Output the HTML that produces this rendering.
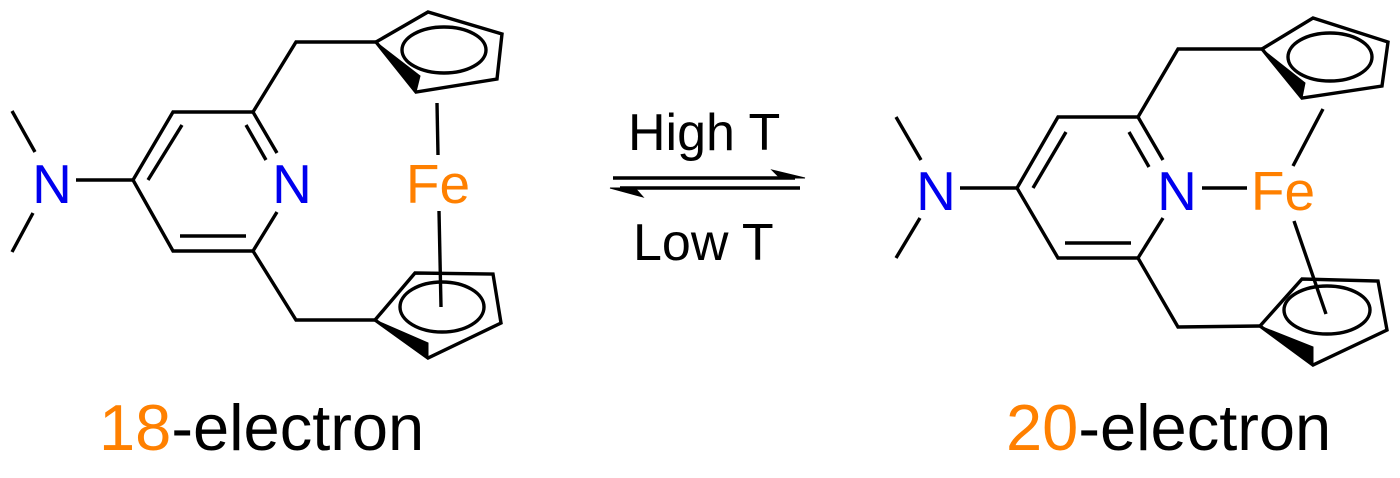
<!DOCTYPE html>
<html><head><meta charset="utf-8"><style>
html,body{margin:0;padding:0;background:#fff;}
svg{display:block;}
text{font-family:"Liberation Sans",Arial,sans-serif;}
</style></head><body>
<svg width="1400" height="478" viewBox="0 0 1400 478" xmlns="http://www.w3.org/2000/svg">
<g stroke="#000" stroke-width="3.4" fill="none" stroke-linecap="butt" stroke-linejoin="miter">
<!-- LEFT molecule -->
<line x1="12" y1="111" x2="35" y2="152"/>
<line x1="33" y1="213" x2="12" y2="252"/>
<line x1="76" y1="180" x2="133" y2="180"/>
<polyline points="277,153 253,112 173,112 133,180 173,251 253,251 277,212"/>
<line x1="182" y1="125" x2="148" y2="180"/>
<line x1="246" y1="125" x2="266" y2="160"/>
<line x1="180" y1="236" x2="246" y2="236"/>
<polyline points="253,112 296,42 376,42"/>
<polyline points="253,251 296,320 375,320"/>
<polygon points="376,42 428,12 502,34 497,79 416,92"/>
<ellipse cx="444" cy="50" rx="42" ry="23"/>
<polygon points="375,320 415,273 493,274 501,323 428,358"/>
<ellipse cx="442" cy="307" rx="42" ry="25"/>
<line x1="437" y1="103" x2="438" y2="155"/>
<line x1="439" y1="211" x2="441" y2="307"/>
<!-- RIGHT molecule -->
<line x1="896" y1="117" x2="921" y2="160"/>
<line x1="920" y1="218" x2="896" y2="258"/>
<line x1="960" y1="188" x2="1017" y2="188"/>
<polyline points="1163,160 1138,117 1058,117 1017,188 1058,258 1138,258 1163,218"/>
<line x1="1066" y1="132" x2="1033" y2="188"/>
<line x1="1129" y1="132" x2="1149" y2="167"/>
<line x1="1065" y1="243" x2="1131" y2="243"/>
<polyline points="1138,117 1178,49 1262,49"/>
<polyline points="1138,258 1178,327 1260,326"/>
<polygon points="1262,49 1313,18 1388,42 1382,86 1302,98"/>
<ellipse cx="1330" cy="57" rx="42" ry="24"/>
<polygon points="1260,326 1302,279 1378,281 1387,330 1313,365"/>
<ellipse cx="1327" cy="310" rx="43" ry="24"/>
<line x1="1202" y1="188" x2="1247" y2="188"/>
<line x1="1323" y1="109" x2="1293" y2="166"/>
<line x1="1294" y1="221" x2="1326" y2="314"/>
<!-- arrows -->
<line x1="613" y1="178" x2="795" y2="178"/>
<line x1="620" y1="188" x2="800" y2="188"/>
</g>
<g fill="#000" stroke="#000" stroke-width="1">
<polygon points="376,42 416,92 420,76"/>
<polygon points="375,320 428,358 428,343"/>
<polygon points="1262,49 1302,98 1305,83"/>
<polygon points="1260,326 1313,365 1313,347"/>
<polygon points="805,178 772,170 780,178"/>
<polygon points="610,188 643,197 635,188"/>
</g>
<g font-size="55" text-anchor="middle">
<text x="52" y="203" fill="#0000ee">N</text>
<text x="292" y="203" fill="#0000ee">N</text>
<text x="438" y="203" fill="#ff8000">Fe</text>
<text x="936" y="210" fill="#0000ee">N</text>
<text x="1177" y="210" fill="#0000ee">N</text>
<text x="1283" y="210" fill="#ff8000">Fe</text>
</g>
<text x="628" y="150" font-size="52">High T</text>
<text x="633" y="260" font-size="52">Low T</text>
<text x="99" y="450" font-size="65"><tspan fill="#ff8000">18</tspan>-electron</text>
<text x="1006" y="450" font-size="65"><tspan fill="#ff8000">20</tspan>-electron</text>
</svg>
</body></html>
